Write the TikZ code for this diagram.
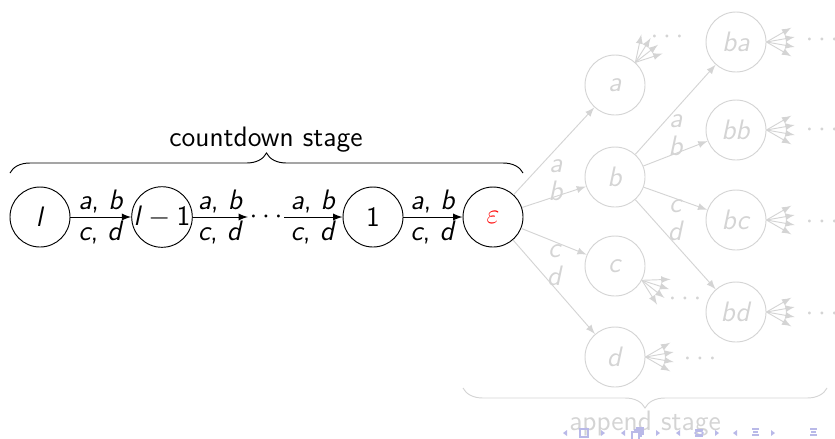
\documentclass[tikz,border=0pt]{standalone}
\usepackage{fontspec}
\usetikzlibrary{arrows,positioning,decorations.pathreplacing}
\colorlet{faded}{black!17}
\definecolor{navblue}{RGB}{185,185,232}

\begin{document}
\begin{tikzpicture}[x=0.015cm, y=-0.015cm, >=latex,
    font=\fontsize{12}{14}\selectfont\sffamily,
    state/.style={circle, draw, minimum size=0.9cm, inner sep=0pt},
    fadestate/.style={state, draw=faded, text=faded},
    lbl/.style={inner sep=1.5pt}]
    \useasboundingbox (0,0) rectangle (835,438);

    % countdown stage
    \node[state] (l) at (40,217) {\textit{l}};
    \node[state] (lm1) at (162,217) {\textit{l}${}-{}$1};
    \node[inner sep=0.5pt] (dots) at (266,217) {$\cdots$};
    \node[state] (one) at (373,217) {1};
    \node[state, text=red] (eps) at (493,217) {$\varepsilon$};

    \draw[->] (l) -- node[above, lbl] {\textit{a}, \textit{b}} node[below, lbl] {\textit{c}, \textit{d}} (lm1);
    \draw[->] (lm1) -- node[above, lbl] {\textit{a}, \textit{b}} node[below, lbl] {\textit{c}, \textit{d}} (dots);
    \draw[->] (dots) -- node[above, lbl] {\textit{a}, \textit{b}} node[below, lbl] {\textit{c}, \textit{d}} (one);
    \draw[->] (one) -- node[above, lbl] {\textit{a}, \textit{b}} node[below, lbl] {\textit{c}, \textit{d}} (eps);

    \draw[decorate, decoration={brace, amplitude=0.3cm}] (10,173) -- (523,173);
    \node (cdlabel) at (266,140) {countdown stage};

    % append stage
    \node[fadestate] (a) at (615,85) {\textit{a}};
    \node[fadestate] (b) at (615,177) {\textit{b}};
    \node[fadestate] (c) at (615,266) {\textit{c}};
    \node[fadestate] (d) at (615,357) {\textit{d}};
    \node[fadestate] (ba) at (736,42) {\textit{ba}};
    \node[fadestate] (bb) at (736,130) {\textit{bb}};
    \node[fadestate] (bc) at (736,220) {\textit{bc}};
    \node[fadestate] (bd) at (736,312) {\textit{bd}};

    \foreach \to in {a,b,c,d}
        \draw[->, faded] (eps) -- (\to);
    \foreach \to in {ba,bb,bc,bd}
        \draw[->, faded] (b) -- (\to);

    \node[text=faded, align=center] (epsab) at (556,180) {\textit{a}\\[-2pt]\textit{b}};
    \node[text=faded, align=center] (epscd) at (555,265) {\textit{c}\\[-2pt]\textit{d}};
    \node[text=faded, align=center] (bab) at (676,135) {\textit{a}\\[-2pt]\textit{b}};
    \node[text=faded, align=center] (bcd) at (676,220) {\textit{c}\\[-2pt]\textit{d}};

    % fans of further edges
    \foreach \leaf/\dir in {a/48, c/-28, d/0, ba/0, bb/0, bc/0, bd/0}
        \foreach \spread in {-30,-10,10,30}
            \draw[->, faded] (\leaf.\dir) -- ++({\dir+\spread}:0.43cm);

    \node[text=faded, inner sep=0.5pt] (adots) at (667,37) {$\cdots$};
    \node[text=faded, inner sep=0.5pt] (cdots) at (685,299) {$\cdots$};
    \node[text=faded, inner sep=0.5pt] (ddots) at (700,359) {$\cdots$};
    \node[text=faded, inner sep=0.5pt] (badots) at (822,40) {$\cdots$};
    \node[text=faded, inner sep=0.5pt] (bbdots) at (822,130) {$\cdots$};
    \node[text=faded, inner sep=0.5pt] (bcdots) at (822,222) {$\cdots$};
    \node[text=faded, inner sep=0.5pt] (bddots) at (822,314) {$\cdots$};

    \draw[faded, decorate, decoration={brace, mirror, amplitude=0.3cm}] (463,388) -- (827,388);
    \node[text=faded] (aplabel) at (645,424) {append stage};

    % navigation symbols
    \begin{scope}[navblue, line width=0.6pt]
        \foreach \x in {565,623,678,735}
            \fill (\x+2,430) -- (\x-2,433) -- (\x+2,436) -- cycle;
        \foreach \x in {603,658,717,773}
            \fill (\x-2,430) -- (\x+2,433) -- (\x-2,436) -- cycle;
        \draw (580,429) rectangle (588,437);
        \draw (632,432) rectangle (639,440) (634,430) -- (641,430) -- (641,437)
              (636,428) -- (643,428) -- (643,435);
        \draw (695,430) -- (703,430) (695,436) -- (703,436);
        \draw (699,433) ellipse (4 and 2);
        \foreach \x in {752,810}
            \draw (\x,429) -- (\x+7,429) (\x+1,432) -- (\x+6,432) (\x,435) -- (\x+7,435);
    \end{scope}
\end{tikzpicture}
\end{document}
